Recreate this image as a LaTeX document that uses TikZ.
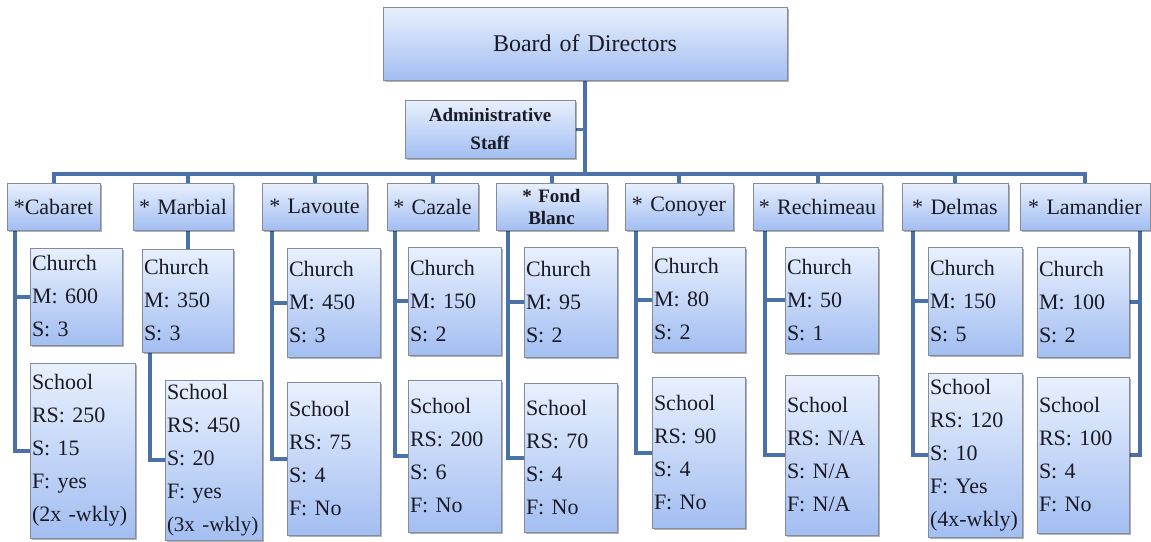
\documentclass[tikz,border=0pt]{standalone}
\usepackage{fontspec}
\setmainfont{Liberation Serif}
\newfontfamily\orgserif{Liberation Serif}
\usetikzlibrary{shadows,backgrounds}
\definecolor{conn}{HTML}{4A72A8}
\definecolor{boxtop}{HTML}{E8F0FD}
\definecolor{boxbot}{HTML}{A3BEF2}
\definecolor{boxline}{HTML}{838C9A}
\definecolor{ink}{HTML}{1A1A24}
\tikzset{
 orgbox/.style={draw=boxline, line width=0.8pt, top color=boxtop, bottom color=boxbot,
   drop shadow={shadow xshift=1.5pt, shadow yshift=-1.5pt, fill=black, opacity=0.3},
   inner xsep=2pt, inner ysep=0pt, text=ink},
 ctrbox/.style={orgbox, align=center},
 lftbox/.style={orgbox, align=left, font=\orgserif\fontsize{22}{33}\selectfont},
 branchbox/.style={ctrbox, font=\orgserif\fontsize{22}{26}\selectfont},
 link/.style={draw=conn, line width=4pt},
 thinlink/.style={draw=conn!85!gray, line width=3pt},
}
\newcommand\orgnode[7]{%
 \pgfmathsetmacro\ow{#4-#2}\pgfmathsetmacro\oh{#5-#3}\pgfmathsetmacro\otw{#4-#2-4}%
 \pgfmathsetmacro\ocx{(#2+#4)/2}\pgfmathsetmacro\ocy{(#3+#5)/2}%
 \node[#6, minimum width=\ow pt, minimum height=\oh pt, text width=\otw pt] (#1) at (\ocx,\ocy) {#7};}
\begin{document}
\begin{tikzpicture}[x=1pt,y=-1pt]
\useasboundingbox (0,0) rectangle (1151,541);
% top
\orgnode{board}{383}{7}{787}{80}{ctrbox,font=\orgserif\fontsize{24}{28}\selectfont}{Board of Directors}
\orgnode{adm}{405}{100}{575}{158}{ctrbox,font=\orgserif\bfseries\fontsize{19}{28}\selectfont}{Administrative\\Staff}
\coordinate (bar) at (585,174);
% branches
\orgnode{cab}{7}{183}{100}{230}{branchbox}{*Cabaret}
\orgnode{mar}{133}{183}{233}{230}{branchbox}{* Marbial}
\orgnode{lav}{262}{183}{367}{230}{branchbox}{* Lavoute}
\orgnode{caz}{387}{183}{478}{230}{branchbox}{* Cazale}
\orgnode{fon}{496}{183}{607}{230}{branchbox,font=\orgserif\bfseries\fontsize{19}{22}\selectfont}{* Fond\\Blanc}
\orgnode{con}{625}{183}{733}{230}{branchbox}{* Conoyer}
\orgnode{rec}{753}{183}{882}{230}{branchbox}{* Rechimeau}
\orgnode{del}{902}{183}{1008}{230}{branchbox}{* Delmas}
\orgnode{lam}{1020}{183}{1150}{230}{branchbox}{* Lamandier}
% churches
\orgnode{cabC}{30}{248}{122}{345}{lftbox}{Church\\M: 600\\S: 3}
\orgnode{marC}{142}{249}{233}{352}{lftbox}{Church\\M: 350\\S: 3}
\orgnode{lavC}{287}{248}{380}{357}{lftbox}{Church\\M: 450\\S: 3}
\orgnode{cazC}{408}{247}{501}{355}{lftbox}{Church\\M: 150\\S: 2}
\orgnode{fonC}{524}{247}{617}{357}{lftbox}{Church\\M: 95\\S: 2}
\orgnode{conC}{652}{247}{745}{352}{lftbox}{Church\\M: 80\\S: 2}
\orgnode{recC}{785}{247}{878}{353}{lftbox}{Church\\M: 50\\S: 1}
\orgnode{delC}{928}{247}{1022}{355}{lftbox}{Church\\M: 150\\S: 5}
\orgnode{lamC}{1037}{247}{1129}{357}{lftbox}{Church\\M: 100\\S: 2}
% schools
\orgnode{cabH}{30}{363}{135}{538}{lftbox}{School\\RS: 250\\S: 15\\F: yes\\(2x -wkly)}
\orgnode{marH}{165}{380}{262}{540}{lftbox}{School\\RS: 450\\S: 20\\F: yes\\{\fontsize{21}{24}\selectfont(3x -wkly)}}
\orgnode{lavH}{287}{382}{380}{535}{lftbox}{School\\RS: 75\\S: 4\\F: No}
\orgnode{cazH}{408}{380}{501}{532}{lftbox}{School\\RS: 200\\S: 6\\F: No}
\orgnode{fonH}{524}{383}{617}{532}{lftbox}{School\\RS: 70\\S: 4\\F: No}
\orgnode{conH}{652}{377}{745}{528}{lftbox}{School\\RS: 90\\S: 4\\F: No}
\orgnode{recH}{785}{375}{878}{535}{lftbox}{School\\RS: N/A\\S: N/A\\F: N/A}
\orgnode{delH}{928}{373}{1022}{537}{lftbox}{School\\RS: 120\\S: 10\\F: Yes\\(4x-wkly)}
\orgnode{lamH}{1037}{377}{1129}{533}{lftbox}{School\\RS: 100\\S: 4\\F: No}
% spines
\coordinate (cabS) at ([xshift=8pt]cab.south west);
\coordinate (marS) at ([xshift=8pt]marC.south west);
\coordinate (lavS) at ([xshift=10pt]lav.south west);
\coordinate (cazS) at ([xshift=8pt]caz.south west);
\coordinate (fonS) at ([xshift=12pt]fon.south west);
\coordinate (conS) at ([xshift=11pt]con.south west);
\coordinate (recS) at ([xshift=12pt]rec.south west);
\coordinate (delS) at ([xshift=11pt]del.south west);
\coordinate (lamS) at ([xshift=-10pt]lam.south east);
\begin{pgfonlayer}{background}
\fill[white] (0,0) rectangle (1151,541);
\draw[link] (board.south) -- (bar);
\draw[thinlink] (adm.east) -- (adm.east -| bar);
\draw[link] (cab.north) |- (lam.north |- bar) -- (lam.north);
\draw[link] (bar -| marC.north) -- (mar.north -| marC.north);
\foreach \b in {lav,caz,fon,con,rec,del}{
  \draw[link] (bar -| \b.north) -- (\b.north);
}
\draw[link] (marC.north) -- (marC.north |- mar.south);
\draw[link] (marS) |- (marH.west);
\foreach \b in {cab,lav,caz,fon,con,rec,del}{
  \draw[link] (\b S) |- (\b C.west);
  \draw[link] (\b S) |- (\b H.west);
}
\draw[link] (lamS) |- (lamC.east);
\draw[link] (lamS) |- (lamH.east);
\end{pgfonlayer}
\end{tikzpicture}
\end{document}
